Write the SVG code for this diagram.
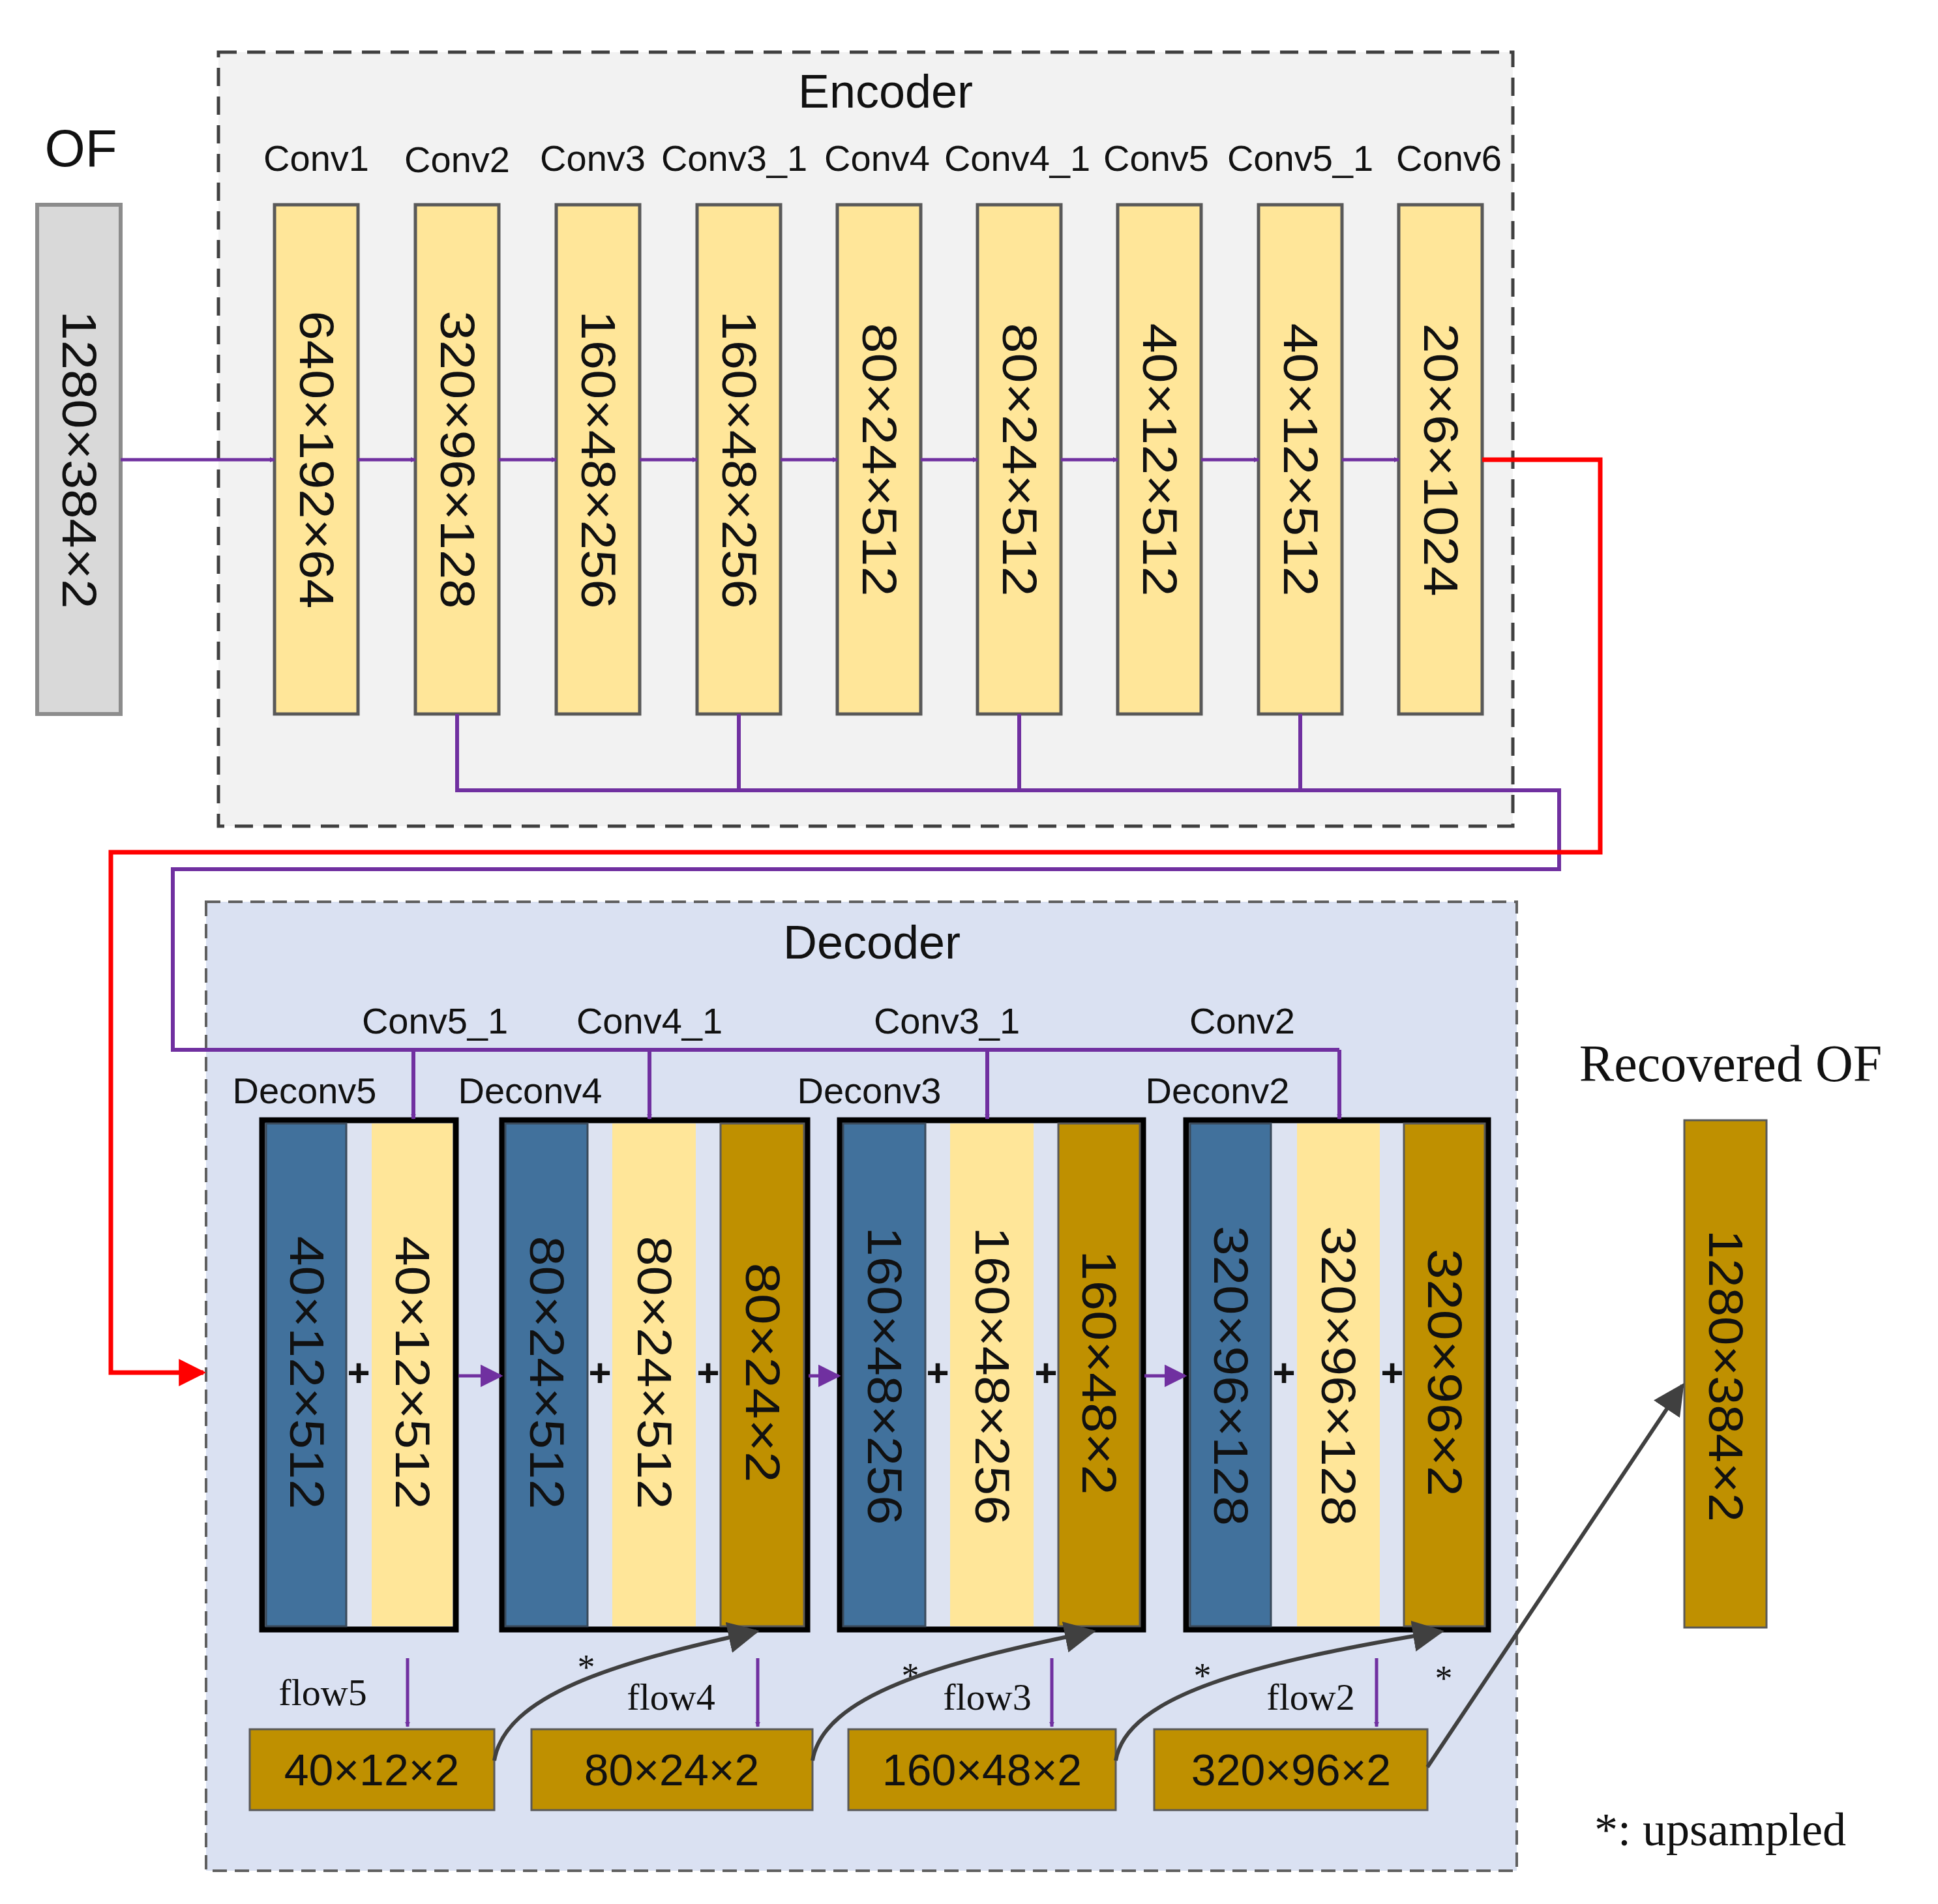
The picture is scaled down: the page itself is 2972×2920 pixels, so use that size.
<svg xmlns="http://www.w3.org/2000/svg" width="2972" height="2920" viewBox="0 0 2972 2920">
<defs>
<style>
.s{font-family:"Liberation Sans",Arial,sans-serif;fill:#111}
.r{font-family:"Liberation Serif","Times New Roman",serif;fill:#111}
.lbl{font-size:56px;text-anchor:middle}
.v{font-size:74px;text-anchor:middle;dominant-baseline:central}
.enc{fill:#ffe699;stroke:#595959;stroke-width:5}
.blue{fill:#41719c;stroke:#3a4a5a;stroke-width:3}
.yel{fill:#ffe699}
.gold{fill:#bf9000;stroke:#595959;stroke-width:3}
.blk{fill:#dde3f1;stroke:#000;stroke-width:9}
.pu{stroke:#7030a0;stroke-width:6;fill:none}
.gr{stroke:#404040;stroke-width:6;fill:none}
.plus{font-size:60px;text-anchor:middle;dominant-baseline:central;font-weight:bold}
</style>
<marker id="ap" viewBox="0 0 10 10" refX="9" refY="5" markerWidth="8" markerHeight="8" markerUnits="userSpaceOnUse" orient="auto"><path d="M0,0L10,5L0,10z" fill="#7030a0"/></marker>
<marker id="aps" viewBox="0 0 10 10" refX="9" refY="5" markerWidth="7" markerHeight="7" orient="auto"><path d="M0,0L10,5L0,10z" fill="#7030a0"/></marker>
<marker id="ar" viewBox="0 0 10 10" refX="9" refY="5" markerWidth="6" markerHeight="6" orient="auto"><path d="M0,0L10,5L0,10z" fill="#ff0000"/></marker>
<marker id="ag" viewBox="0 0 10 10" refX="9" refY="5" markerWidth="8" markerHeight="8" orient="auto"><path d="M0,0L10,5L0,10z" fill="#404040"/></marker>
</defs>
<rect width="2972" height="2920" fill="#fff"/>

<g id="encoder">
<rect x="335" y="80" width="1985" height="1187" fill="#f2f2f2" stroke="#404040" stroke-width="5" stroke-dasharray="28,16"/>
<text class="s" x="1358" y="165" font-size="72" text-anchor="middle">Encoder</text>
</g>
<g id="decoder">
<rect x="316" y="1383" width="2010" height="1486" fill="#dae1f2" stroke="#606060" stroke-width="4" stroke-dasharray="22,12"/>
<text class="s" x="1337" y="1470" font-size="72" text-anchor="middle">Decoder</text>
</g>

<g id="of">
<text class="s" x="124" y="255" font-size="80" text-anchor="middle">OF</text>
<rect x="57" y="314" width="128" height="781" fill="#d9d9d9" stroke="#8c8c8c" stroke-width="6"/>
<text class="s v" transform="translate(121,705) rotate(90)" textLength="457" lengthAdjust="spacingAndGlyphs">1280×384×2</text>
</g>

<g id="conv1"><text class="s lbl" x="485" y="262">Conv1</text><rect class="enc" x="421" y="314" width="128" height="781"/><text class="s v" transform="translate(485,705) rotate(90)" textLength="457" lengthAdjust="spacingAndGlyphs">640×192×64</text></g>
<g id="conv2"><text class="s lbl" x="701" y="264" font-size="64">Conv2</text><rect class="enc" x="637" y="314" width="128" height="781"/><text class="s v" transform="translate(701,705) rotate(90)" textLength="457" lengthAdjust="spacingAndGlyphs">320×96×128</text></g>
<g id="conv3"><text class="s lbl" x="909" y="262">Conv3</text><rect class="enc" x="853" y="314" width="128" height="781"/><text class="s v" transform="translate(917,705) rotate(90)" textLength="457" lengthAdjust="spacingAndGlyphs">160×48×256</text></g>
<g id="conv3_1"><text class="s lbl" x="1126" y="262">Conv3_1</text><rect class="enc" x="1069" y="314" width="128" height="781"/><text class="s v" transform="translate(1133,705) rotate(90)" textLength="457" lengthAdjust="spacingAndGlyphs">160×48×256</text></g>
<g id="conv4"><text class="s lbl" x="1345" y="262">Conv4</text><rect class="enc" x="1284" y="314" width="128" height="781"/><text class="s v" transform="translate(1348,705) rotate(90)" textLength="419" lengthAdjust="spacingAndGlyphs">80×24×512</text></g>
<g id="conv4_1"><text class="s lbl" x="1560" y="262">Conv4_1</text><rect class="enc" x="1499" y="314" width="128" height="781"/><text class="s v" transform="translate(1563,705) rotate(90)" textLength="419" lengthAdjust="spacingAndGlyphs">80×24×512</text></g>
<g id="conv5"><text class="s lbl" x="1773" y="262">Conv5</text><rect class="enc" x="1714" y="314" width="128" height="781"/><text class="s v" transform="translate(1778,705) rotate(90)" textLength="419" lengthAdjust="spacingAndGlyphs">40×12×512</text></g>
<g id="conv5_1"><text class="s lbl" x="1994" y="262">Conv5_1</text><rect class="enc" x="1930" y="314" width="128" height="781"/><text class="s v" transform="translate(1994,705) rotate(90)" textLength="419" lengthAdjust="spacingAndGlyphs">40×12×512</text></g>
<g id="conv6"><text class="s lbl" x="2222" y="262">Conv6</text><rect class="enc" x="2145" y="314" width="128" height="781"/><text class="s v" transform="translate(2209,705) rotate(90)" textLength="419" lengthAdjust="spacingAndGlyphs">20×6×1024</text></g>

<g id="deconv5">
<text class="s lbl" x="467" y="1692">Deconv5</text>
<rect class="blk" x="402" y="1718" width="297" height="781"/>
<rect class="blue" x="408" y="1723" width="123" height="771"/>
<rect class="yel" x="570" y="1723" width="124" height="771"/>
<text class="s v" transform="translate(470,2105) rotate(90)" textLength="419" lengthAdjust="spacingAndGlyphs">40×12×512</text>
<text class="s v" transform="translate(632,2105) rotate(90)" textLength="419" lengthAdjust="spacingAndGlyphs">40×12×512</text>
<text class="s plus" x="550" y="2105">+</text>
</g>
<g id="deconv4">
<text class="s lbl" x="813" y="1692">Deconv4</text>
<rect class="blk" x="770" y="1718" width="468" height="781"/>
<rect class="blue" x="775" y="1723" width="126" height="771"/>
<rect class="yel" x="939" y="1723" width="128" height="771"/>
<rect class="gold" x="1105" y="1723" width="128" height="771"/>
<text class="s v" transform="translate(838,2105) rotate(90)" textLength="419" lengthAdjust="spacingAndGlyphs">80×24×512</text>
<text class="s v" transform="translate(1003,2105) rotate(90)" textLength="419" lengthAdjust="spacingAndGlyphs">80×24×512</text>
<text class="s v" transform="translate(1169,2105) rotate(90)" textLength="337" lengthAdjust="spacingAndGlyphs">80×24×2</text>
<text class="s plus" x="920" y="2105">+</text>
<text class="s plus" x="1086" y="2105">+</text>
</g>
<g id="deconv3">
<text class="s lbl" x="1333" y="1692">Deconv3</text>
<rect class="blk" x="1288" y="1718" width="465" height="781"/>
<rect class="blue" x="1293" y="1723" width="126" height="771"/>
<rect class="yel" x="1457" y="1723" width="128" height="771"/>
<rect class="gold" x="1623" y="1723" width="125" height="771"/>
<text class="s v" transform="translate(1356,2110) rotate(90)" textLength="457" lengthAdjust="spacingAndGlyphs">160×48×256</text>
<text class="s v" transform="translate(1521,2110) rotate(90)" textLength="457" lengthAdjust="spacingAndGlyphs">160×48×256</text>
<text class="s v" transform="translate(1685,2105) rotate(90)" textLength="375" lengthAdjust="spacingAndGlyphs">160×48×2</text>
<text class="s plus" x="1438" y="2105">+</text>
<text class="s plus" x="1604" y="2105">+</text>
</g>
<g id="deconv2">
<text class="s lbl" x="1867" y="1692">Deconv2</text>
<rect class="blk" x="1819" y="1718" width="463" height="781"/>
<rect class="blue" x="1825" y="1723" width="124" height="771"/>
<rect class="yel" x="1989" y="1723" width="127" height="771"/>
<rect class="gold" x="2153" y="1723" width="124" height="771"/>
<text class="s v" transform="translate(1887,2110) rotate(90)" textLength="460" lengthAdjust="spacingAndGlyphs">320×96×128</text>
<text class="s v" transform="translate(2052,2110) rotate(90)" textLength="460" lengthAdjust="spacingAndGlyphs">320×96×128</text>
<text class="s v" transform="translate(2215,2105) rotate(90)" textLength="380" lengthAdjust="spacingAndGlyphs">320×96×2</text>
<text class="s plus" x="1969" y="2105">+</text>
<text class="s plus" x="2135" y="2105">+</text>
</g>

<g id="conv_skip_labels">
<text class="s lbl" x="667" y="1585">Conv5_1</text>
<text class="s lbl" x="996" y="1585">Conv4_1</text>
<text class="s lbl" x="1452" y="1585">Conv3_1</text>
<text class="s lbl" x="1905" y="1585">Conv2</text>
</g>

<g id="flow5"><text class="r" x="495" y="2615" font-size="58" text-anchor="middle">flow5</text><rect class="gold" x="383" y="2652" width="375" height="124"/><text class="s" x="570" y="2738" font-size="68" text-anchor="middle">40×12×2</text></g>
<g id="flow4"><text class="r" x="1029" y="2622" font-size="58" text-anchor="middle">flow4</text><rect class="gold" x="815" y="2652" width="431" height="124"/><text class="s" x="1030" y="2738" font-size="68" text-anchor="middle">80×24×2</text></g>
<g id="flow3"><text class="r" x="1514" y="2622" font-size="58" text-anchor="middle">flow3</text><rect class="gold" x="1301" y="2652" width="410" height="124"/><text class="s" x="1506" y="2738" font-size="68" text-anchor="middle">160×48×2</text></g>
<g id="flow2"><text class="r" x="2010" y="2622" font-size="58" text-anchor="middle">flow2</text><rect class="gold" x="1770" y="2652" width="419" height="124"/><text class="s" x="1980" y="2738" font-size="68" text-anchor="middle">320×96×2</text></g>

<g id="recovered">
<text class="r" x="2654" y="1658" font-size="80" text-anchor="middle">Recovered OF</text>
<rect class="gold" x="2583" y="1718" width="126" height="778"/>
<text class="s v" transform="translate(2646,2110) rotate(90)" textLength="448" lengthAdjust="spacingAndGlyphs">1280×384×2</text>
</g>

<g id="notes">
<text class="r" x="899" y="2575" font-size="54" text-anchor="middle">*</text>
<text class="r" x="1396" y="2588" font-size="54" text-anchor="middle">*</text>
<text class="r" x="1844" y="2588" font-size="54" text-anchor="middle">*</text>
<text class="r" x="2214" y="2592" font-size="54" text-anchor="middle">*</text>
<text class="r" x="2638" y="2830" font-size="72" text-anchor="middle">*: upsampled</text>
</g>

<g id="connectors">
<line class="pu" x1="185" y1="705" x2="421" y2="705" marker-end="url(#ap)" style="stroke-width:5"/>
<g marker-end="url(#ap)" style="stroke:#7030a0;stroke-width:5">
<line x1="549" y1="705" x2="637" y2="705"/>
<line x1="765" y1="705" x2="853" y2="705"/>
<line x1="981" y1="705" x2="1069" y2="705"/>
<line x1="1197" y1="705" x2="1284" y2="705"/>
<line x1="1412" y1="705" x2="1499" y2="705"/>
<line x1="1627" y1="705" x2="1714" y2="705"/>
<line x1="1842" y1="705" x2="1930" y2="705"/>
<line x1="2058" y1="705" x2="2145" y2="705"/>
</g>
<path class="pu" d="M701,1095V1212H2391V1333H265V1610H2054"/>
<path class="pu" d="M1133,1095V1212M1563,1095V1212M1994,1095V1212"/>
<g marker-end="url(#ap)" style="stroke:#7030a0;stroke-width:6">
<line x1="634" y1="1610" x2="634" y2="1716"/>
<line x1="996" y1="1610" x2="996" y2="1716"/>
<line x1="1514" y1="1610" x2="1514" y2="1716"/>
<line x1="2054" y1="1610" x2="2054" y2="1716"/>
</g>
<path d="M2273,705H2454V1307H170V2105H312" fill="none" stroke="#ff0000" stroke-width="7" marker-end="url(#ar)"/>
<g style="stroke:#7030a0;stroke-width:5">
<line x1="703" y1="2110" x2="768" y2="2110" marker-end="url(#aps)"/>
<line x1="1240" y1="2110" x2="1286" y2="2110" marker-end="url(#aps)"/>
<line x1="1755" y1="2110" x2="1817" y2="2110" marker-end="url(#aps)"/>
</g>
<g marker-end="url(#ap)" style="stroke:#7030a0;stroke-width:5">
<line x1="625" y1="2543" x2="625" y2="2648"/>
<line x1="1162" y1="2543" x2="1162" y2="2648"/>
<line x1="1613" y1="2543" x2="1613" y2="2648"/>
<line x1="2111" y1="2543" x2="2111" y2="2648"/>
</g>
<path class="gr" d="M758,2700C775,2600 940,2550 1160,2502" marker-end="url(#ag)"/>
<path class="gr" d="M1246,2700C1263,2600 1440,2550 1676,2502" marker-end="url(#ag)"/>
<path class="gr" d="M1711,2700C1728,2600 1920,2550 2210,2502" marker-end="url(#ag)"/>
<path class="gr" d="M2189,2710L2580,2125" marker-end="url(#ag)"/>
</g>
</svg>
